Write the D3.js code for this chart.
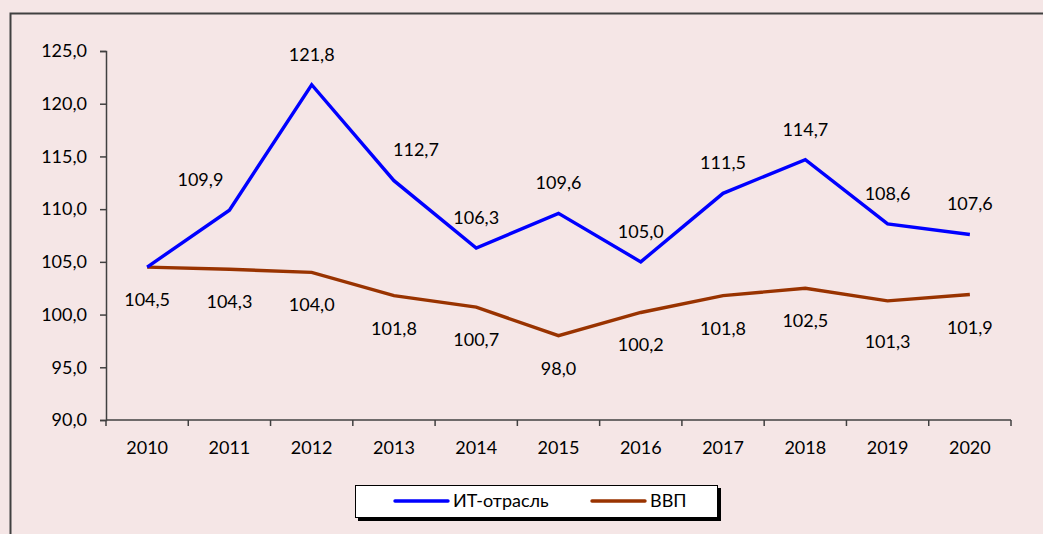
<!DOCTYPE html>
<html>
<head>
<meta charset="utf-8">
<script src="https://cdn.jsdelivr.net/npm/d3@7"></script>
<style>
  body { margin: 0; background: #f5e6e6; }
  svg { display: block; font-family: Lato, "Open Sans", sans-serif; }
</style>
</head>
<body>
<svg id="chart" width="1043" height="534"></svg>
<script>
// data
const years = ['2010', '2011', '2012', '2013', '2014', '2015', '2016', '2017', '2018', '2019', '2020'];
const itValues = [104.5, 109.9, 121.8, 112.7, 106.3, 109.6, 105.0, 111.5, 114.7, 108.6, 107.6];
const gdpValues = [104.5, 104.3, 104.0, 101.8, 100.7, 98.0, 100.2, 101.8, 102.5, 101.3, 101.9];
const yTicks = [90, 95, 100, 105, 110, 115, 120, 125];

const fmt = (v) => d3.format('.1f')(v).replace('.', ',');
const fontSize = 18;

const svg = d3.select('#chart');
const axisColor = '#404040';

// outer frame
svg.append('rect')
    .attr('x', 10.5).attr('y', 13.5)
    .attr('width', 1100).attr('height', 600)
    .attr('fill', '#f5e6e6')
    .attr('stroke', '#404040')
    .attr('stroke-width', 2);

const x = d3.scaleBand().domain(years).range([106, 1011]);
const y = d3.scaleLinear().domain([90, 125]).range([420, 51]);
const cx = (d) => x(d) + x.bandwidth() / 2;

// y axis
const yAxis = svg.append('g')
    .attr('transform', 'translate(106,0)')
    .call(d3.axisLeft(y).tickValues(yTicks).tickFormat(fmt).tickSizeOuter(0).tickSize(6));
yAxis.select('.domain').attr('stroke', axisColor).attr('stroke-width', 1.5);
yAxis.selectAll('line').attr('stroke', axisColor).attr('stroke-width', 1.5);
yAxis.selectAll('text')
    .attr('font-size', fontSize)
    .attr('font-family', 'Lato, sans-serif')
    .attr('fill', '#000')
    .attr('x', -19);

// x axis with ticks at band edges
const xAxis = svg.append('g').attr('transform', 'translate(0,420)');
xAxis.append('line')
    .attr('x1', 106).attr('x2', 1011)
    .attr('stroke', axisColor).attr('stroke-width', 1.5);
xAxis.selectAll('.tick')
    .data(years.concat(['end']))
    .enter()
    .append('line')
    .attr('x1', (d) => (d === 'end' ? x.range()[1] : x(d)))
    .attr('x2', (d) => (d === 'end' ? x.range()[1] : x(d)))
    .attr('y1', 0).attr('y2', 6)
    .attr('stroke', axisColor).attr('stroke-width', 1.5);
xAxis.selectAll('.lbl')
    .data(years)
    .enter()
    .append('text')
    .attr('x', cx)
    .attr('y', 34)
    .attr('text-anchor', 'middle')
    .attr('font-size', fontSize)
    .text((d) => d);

const line = (vals) => d3.line()
    .x((d, i) => cx(years[i]))
    .y((d) => y(d))(vals);

// label nudges (hand-moved labels in the original)
const nudge = {
    'ИТ-отрасль 2011': [-29, 0],
    'ИТ-отрасль 2013': [22, -1],
    'ВВП 2019': [0, 8]
};

const series = [
    { name: 'ИТ-отрасль', values: itValues, color: '#0000ff', dy: -24, skip: [0] },
    { name: 'ВВП', values: gdpValues, color: '#993300', dy: 39, skip: [] }
];

// draw GDP first so IT line sits on top
series.slice().reverse().forEach((s) => {
    svg.append('path')
        .attr('d', line(s.values))
        .attr('fill', 'none')
        .attr('stroke', s.color)
        .attr('stroke-width', 3.4)
        .attr('stroke-linejoin', 'miter');
});

series.forEach((s) => {
    const off = (d) => nudge[`${s.name} ${years[d.i]}`] || [0, 0];
    svg.selectAll(null)
        .data(s.values.map((v, i) => ({ v, i })).filter((d) => !s.skip.includes(d.i)))
        .enter()
        .append('text')
        .attr('x', (d) => cx(years[d.i]) + off(d)[0])
        .attr('y', (d) => y(d.v) + s.dy + off(d)[1])
        .attr('text-anchor', 'middle')
        .attr('font-size', fontSize)
        .text((d) => fmt(d.v));
});

// legend
const legend = svg.append('g');
legend.append('rect')
    .attr('x', 358).attr('y', 488)
    .attr('width', 363).attr('height', 33)
    .attr('fill', '#000');
legend.append('rect')
    .attr('x', 355.5).attr('y', 485.5)
    .attr('width', 362).attr('height', 32)
    .attr('fill', '#fff')
    .attr('stroke', '#000')
    .attr('stroke-width', 1);
const legendX = [395, 592];
series.forEach((s, i) => {
    legend.append('line')
        .attr('x1', legendX[i]).attr('x2', legendX[i] + 53)
        .attr('y1', 501).attr('y2', 501)
        .attr('stroke', s.color)
        .attr('stroke-width', 3.4)
        .attr('stroke-linecap', 'round');
    legend.append('text')
        .attr('x', legendX[i] + 58)
        .attr('y', 507)
        .attr('font-size', fontSize)
        .text(s.name);
});
</script>
</body>
</html>
